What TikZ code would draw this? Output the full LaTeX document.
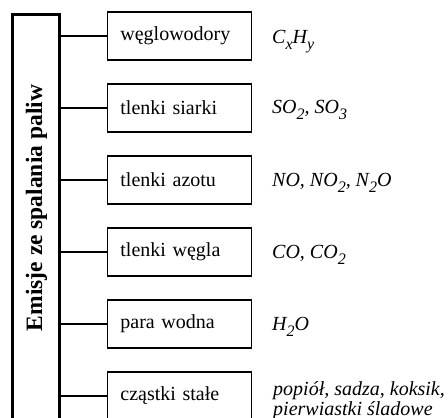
\documentclass[tikz,border=0pt]{standalone}
\usepackage{fontspec}
\setmainfont{Liberation Serif}
\newcommand\chemsub[1]{\raisebox{-6pt}{\fontsize{16}{16}\selectfont #1}}
\begin{document}
\begin{tikzpicture}[x=1pt,y=-1pt,
  itembox/.style={draw, line width=1.4pt, minimum width=144pt, minimum height=48pt,
    text width=118pt, inner xsep=13pt, inner ysep=0pt, align=left,
    font=\fontsize{20}{24}\selectfont, anchor=west},
  chem/.style={anchor=base west, inner sep=0pt, font=\fontsize{20}{20}\selectfont\itshape},
  link/.style={line width=1.2pt}]
\useasboundingbox (0,0) rectangle (448,418);
\clip (0,0) rectangle (448,418);
\fill[white] (0,0) rectangle (448,418);
\node[draw, line width=2.8pt, minimum width=47pt, minimum height=440pt, inner sep=0pt,
  anchor=north west] (main) at (11.4,13.4) {};
\node[rotate=90, anchor=base, inner sep=0pt,
  font=\fontsize{23.5}{28}\selectfont\bfseries] (title) at (42,208) {Emisje ze spalania paliw};
\node[itembox] (b1) at (106.7,36) {węglowodory};
\node[itembox] (b2) at (106.7,108) {tlenki siarki};
\node[itembox] (b3) at (106.7,180) {tlenki azotu};
\node[itembox] (b4) at (106.7,252) {tlenki węgla};
\node[itembox] (b5) at (106.7,324) {para wodna};
\node[itembox] (b6) at (106.7,396) {cząstki stałe};
\foreach \b in {b1,b2,b3,b4,b5,b6}
  \draw[link] (main.east |- \b.west) -- (\b.west);
\node[chem] (c1) at (272,43) {C\chemsub{x}H\chemsub{y}};
\node[chem] (c2) at (272,113) {SO\chemsub{2}, SO\chemsub{3}};
\node[chem] (c3) at (272,186) {NO, NO\chemsub{2}, N\chemsub{2}O};
\node[chem] (c4) at (272,258) {CO, CO\chemsub{2}};
\node[chem] (c5) at (272,330) {H\chemsub{2}O};
\node[chem] (c6) at (273,395) {popiół, sadza, koksik,};
\node[chem] (c6b) at (273,415) {pierwiastki śladowe};
\end{tikzpicture}
\end{document}
